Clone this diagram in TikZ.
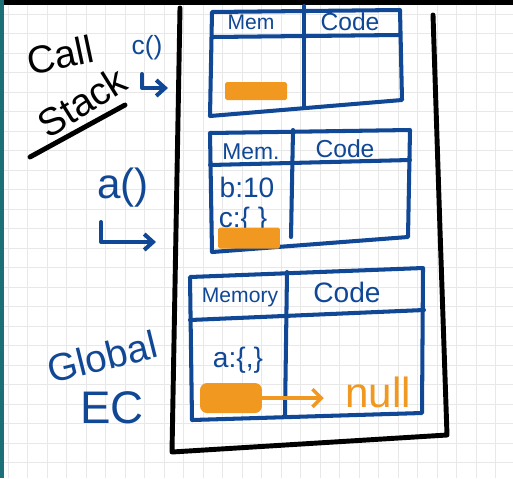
\documentclass[tikz,border=0pt]{standalone}
\usepackage{fontspec}
\setmainfont{Liberation Sans}
\usetikzlibrary{arrows.meta}
\definecolor{inkblue}{RGB}{16,72,150}
\definecolor{inkorange}{RGB}{240,152,32}
\definecolor{sidebar}{RGB}{28,112,120}

\begin{document}
\begin{tikzpicture}[x=0.02cm,y=-0.02cm,
    blackpen/.style={draw=black,line width=2.8pt,line cap=round,line join=round},
    bluepen/.style={draw=inkblue,line width=2.3pt,line cap=round,line join=round},
    hand/.style={inner sep=0pt,text=inkblue},
    hilite/.style={fill=inkorange,rounded corners=1pt,inner sep=0pt,minimum width=1.24cm},
    hook/.style={bluepen,-{Straight Barb[length=5pt,width=9pt]}}]
    \useasboundingbox (0,0) rectangle (513,478);
    \fill[white] (0,0) rectangle (513,478);
    \foreach \gx in {8,27.5,...,513} {
        \draw[gray!18,line width=0.5pt] (\gx,0) -- (\gx,478);
    }
    \foreach \gy in {14,33.5,...,478} {
        \draw[gray!18,line width=0.5pt] (0,\gy) -- (513,\gy);
    }
    \fill[black] (0,0) rectangle (513,5);
    \fill[sidebar] (0,0) rectangle (4,478);

    \draw[blackpen] (180,8) -- (176,230) -- (172,452) -- (447,435) -- (440,230) -- (433,15);

    \draw[bluepen] (212,12) -- (400,10) -- (402,100) -- (210,116) -- cycle;
    \draw[bluepen] (212,37) -- (399,35);
    \draw[bluepen] (304,6) -- (304,108);
    \node[hand,font=\fontsize{12}{12}\selectfont] (cmem) at (251,22) {Mem};
    \node[hand,font=\fontsize{14}{14}\selectfont] (ccode) at (350,22) {Code};
    \node[hilite,minimum height=0.36cm] (cmark) at (256,91) {};

    \draw[bluepen] (210,133) -- (410,130) -- (408,237) -- (212,252) -- cycle;
    \draw[bluepen] (210,165) -- (410,160);
    \draw[bluepen] (293,130) -- (291,237);
    \node[hand,font=\fontsize{13}{13}\selectfont] (amem) at (251,152) {Mem.};
    \node[hand,font=\fontsize{14}{14}\selectfont] (acode) at (345,149) {Code};
    \node[hand,font=\fontsize{16}{16}\selectfont] (bval) at (247,187) {b:10};
    \node[hand,font=\fontsize{16}{16}\selectfont] (cval) at (243,220) {c:\{ \}};
    \node[hilite,minimum height=0.42cm] (amark) at (249,238) {};

    \draw[bluepen] (190,277) -- (423,268) -- (422,413) -- (192,420) -- cycle;
    \draw[bluepen] (190,320) -- (424,310);
    \draw[bluepen] (287,272) -- (285,415);
    \node[hand,font=\fontsize{12}{12}\selectfont] (gmem) at (240,297) {Memory};
    \node[hand,font=\fontsize{16}{16}\selectfont] (gcode) at (347,292) {Code};
    \node[hand,font=\fontsize{16}{16}\selectfont] (aval) at (238,360) {a:\{,\}};
    \node[hilite,minimum height=0.6cm,rounded corners=4pt] (gmark) at (231,398) {};
    \node[hand,text=inkorange,font=\fontsize{24}{24}\selectfont] (null) at (378,392) {null};
    \draw[draw=inkorange,line width=2pt,-{Straight Barb[length=5pt,width=10pt]}] (gmark.east) -- ([xshift=-12pt]null.west |- gmark.east);

    \node[hand,text=black,rotate=12,font=\fontsize{22}{22}\selectfont] (call) at (60,55) {Call};
    \node[hand,text=black,rotate=32,font=\fontsize{22}{22}\selectfont] (stack) at (82,102) {Stack};
    \draw[blackpen] (30,157) -- (125,105);
    \node[hand,font=\fontsize{15}{15}\selectfont] (cfun) at (147,48) {c()};
    \coordinate (ctop) at (142,74);
    \coordinate (cend) at (168,88);
    \draw[hook] (ctop) |- (cend);
    \node[hand,font=\fontsize{24}{24}\selectfont] (afun) at (123,188) {a()};
    \coordinate (atop) at (101,222);
    \coordinate (aend) at (156,242);
    \draw[hook] (atop) |- (aend);
    \node[hand,rotate=14,font=\fontsize{22}{22}\selectfont] (global) at (102,357) {Global};
    \node[hand,font=\fontsize{26}{26}\selectfont] (ec) at (112,408) {EC};
\end{tikzpicture}
\end{document}
